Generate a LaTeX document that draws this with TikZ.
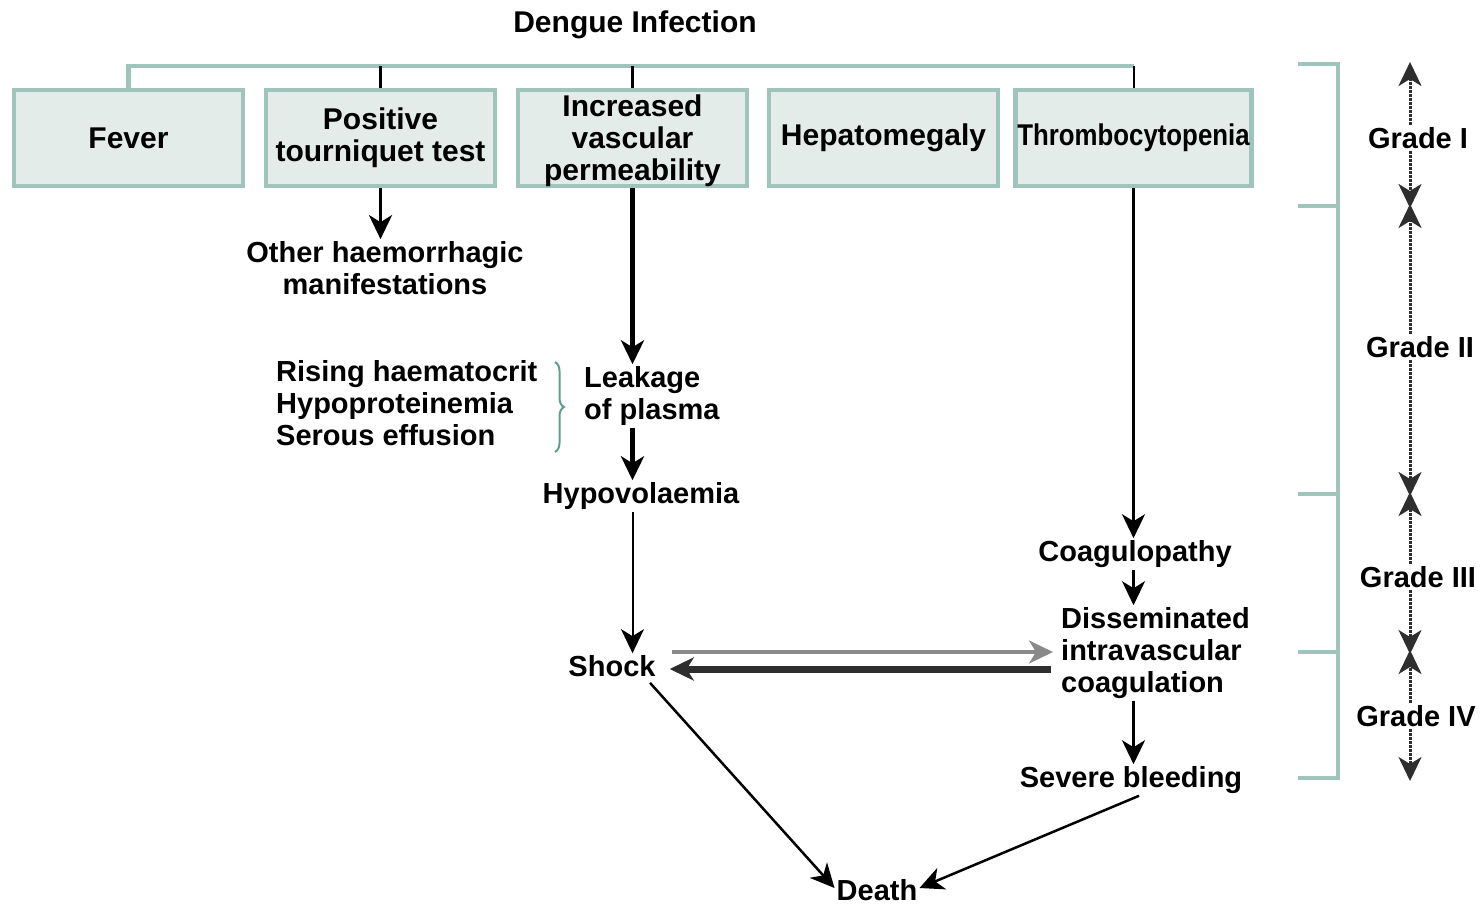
\documentclass[tikz,border=0pt]{standalone}
\usepackage{fontspec}
\usepackage{graphicx}
\setmainfont{Liberation Sans}
\usetikzlibrary{arrows.meta,decorations.pathreplacing}
\definecolor{boxfill}{HTML}{E4ECE9}
\definecolor{boxline}{HTML}{9FC4BC}
\definecolor{bracecol}{HTML}{5E9E91}
\definecolor{darkline}{HTML}{2E2E2E}
\definecolor{greyline}{HTML}{8A8A8A}
\begin{document}
\begin{tikzpicture}[x=1pt,y=-1pt,
  every node/.style={font=\fontsize{29}{32}\selectfont\bfseries, inner sep=2pt},
  sbox/.style={draw=boxline, line width=4.5pt, fill=boxfill, minimum width=229pt, minimum height=96pt, align=center, font=\fontsize{30}{32}\selectfont\bfseries},
  tipa/.style={-{Stealth[length=24pt,width=23pt,inset=7pt]}},
  tree/.style={draw=boxline, line width=4.5pt},
  garr/.style={draw=darkline, line width=3pt, dash pattern=on 3pt off 1pt, -{Stealth[length=24pt,width=23pt,inset=7pt]}},
]
\useasboundingbox (0,0) rectangle (1482,904);

% title
\node[font=\fontsize{30}{32}\selectfont\bfseries] (title) at (635,25) {Dengue Infection};

% boxes
\node[sbox] (fever) at (128.5,138) {Fever};
\node[sbox] (pos) at (380.5,138) {Positive\\tourniquet test};
\node[sbox] (inc) at (632.5,138) {};
\node[align=center, font=\fontsize{30}{32}\selectfont\bfseries] (inctext) at (632.5,141) {Increased\\vascular\\permeability};
\node[sbox] (hep) at (883.5,138) {Hepatomegaly};
\node[sbox] (thr) at (1133.5,138) {\scalebox{0.86}[1]{Thrombocytopenia}};

% tree
\coordinate (tl) at (0,66);
\draw[tree] (fever.north) |- (thr.north |- tl);
\draw[line width=2.5pt] (pos.north) -- (pos.north |- tl);
\draw[line width=3.5pt] (inc.north) -- (inc.north |- tl);
\draw[line width=2pt] (thr.north) -- (thr.north |- tl);

% text nodes
\node[align=center] (other) at (385,268) {Other haemorrhagic\\manifestations};
\node[align=left, anchor=west] (leak) at (582,396) {Leakage\\of plasma};
\node[align=left, anchor=west] (rising) at (274,403) {Rising haematocrit\\Hypoproteinemia\\Serous effusion};
\node (hypo) at (641,496) {Hypovolaemia};
\node (shock) at (612,666) {Shock};
\node (coag) at (1135,554) {Coagulopathy};
\node[align=left, anchor=west] (dic) at (1059,653) {Disseminated\\intravascular\\coagulation};
\node (severe) at (1131,780) {Severe bleeding};
\node (death) at (877,890) {Death};

% brace
\draw[bracecol, line width=2pt, decorate, decoration={brace, amplitude=9pt}] (555,362) -- (555,452);

% arrows
\draw[tipa, line width=3.5pt] (pos.south) -- (pos.south |- other.north);
\draw[tipa, line width=4.5pt] (inc.south) -- (inc.south |- leak.north);
\draw[tipa, line width=4.5pt] (inc.south |- leak.south) -- (inc.south |- hypo.north);
\draw[tipa, line width=2pt] (inc.south |- hypo.south) -- (inc.south |- shock.north);
\draw[tipa, line width=2.5pt] (thr.south) -- (thr.south |- coag.north);
\draw[tipa, line width=2.5pt] (thr.south |- coag.south) -- (thr.south |- dic.north);
\draw[tipa, line width=2.5pt] (thr.south |- dic.south) -- (thr.south |- severe.north);
\coordinate (ya) at (0,652);
\coordinate (yb) at (0,669);
\path ([xshift=14pt]shock.east) coordinate (se) ([xshift=-6pt]dic.west) coordinate (dw);
\draw[tipa, line width=3.5pt, draw=greyline] (se |- ya) -- (dw |- ya);
\draw[tipa, line width=7pt, draw=darkline] ([xshift=-2pt]dw |- yb) -- ([xshift=-2pt]se |- yb);
\draw[tipa, line width=2.5pt] ([xshift=38pt,yshift=-4pt]shock.south) -- ([yshift=2pt]death.west);
\draw[tipa, line width=2.5pt] ([xshift=8pt]severe.south) -- ([yshift=2pt]death.east);

% right bracket
\draw[tree] (1298,64) -- (1338,64) -- (1338,778) -- (1298,778);
\draw[tree] (1298,206) -- (1338,206);
\draw[tree] (1298,494) -- (1338,494);
\draw[tree] (1298,652) -- (1338,652);

% grades
\coordinate (t0) at (1410,62);
\coordinate (t1) at (1410,206);
\coordinate (t2) at (1410,494);
\coordinate (t3) at (1410,652);
\coordinate (t4) at (1410,778);
\node (g1) at (1418,138) {Grade I};
\node (g2) at (1420,347) {Grade II};
\node (g3) at (1418,577) {Grade III};
\node (g4) at (1416,716) {Grade IV};
\draw[garr] (t0 |- g1.north) -- (t0);
\draw[garr] (t0 |- g1.south) -- ([yshift=-2pt]t1);
\draw[garr] (t0 |- g2.north) -- ([yshift=2pt]t1);
\draw[garr] (t0 |- g2.south) -- ([yshift=-2pt]t2);
\draw[garr] (t0 |- g3.north) -- ([yshift=2pt]t2);
\draw[garr] (t0 |- g3.south) -- ([yshift=-2pt]t3);
\draw[garr] (t0 |- g4.north) -- ([yshift=2pt]t3);
\draw[garr] (t0 |- g4.south) -- ([yshift=-3pt]t4);
\end{tikzpicture}
\end{document}
